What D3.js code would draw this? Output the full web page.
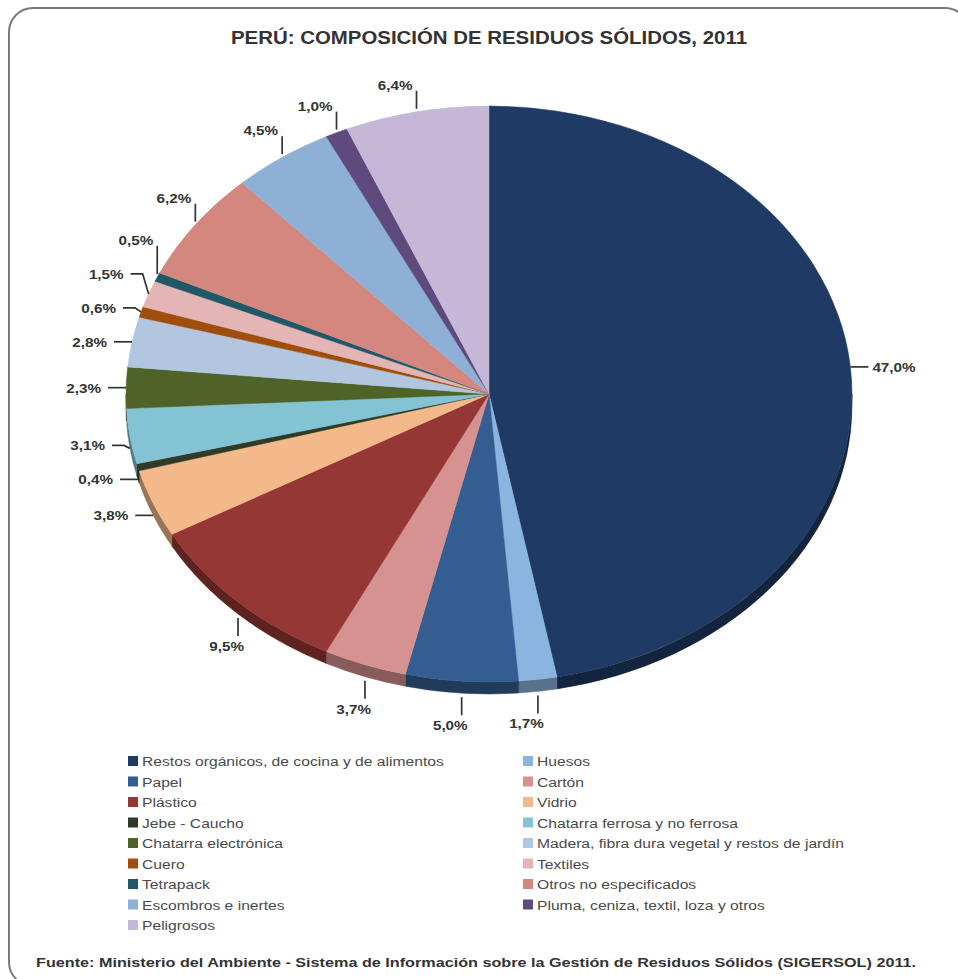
<!DOCTYPE html>
<html><head><meta charset="utf-8">
<script src="https://cdn.jsdelivr.net/npm/d3@7"></script>
<style>
html,body{margin:0;padding:0;background:#fff;}
svg{display:block;font-family:"Liberation Sans",Arial,sans-serif;}
</style></head>
<body>
<script>
const title = "PERÚ: COMPOSICIÓN DE RESIDUOS SÓLIDOS, 2011";
const source = "Fuente: Ministerio del Ambiente - Sistema de Información sobre la Gestión de Residuos Sólidos (SIGERSOL) 2011.";
const categories = [
  "Restos orgánicos, de cocina y de alimentos", "Huesos",
  "Papel", "Cartón",
  "Plástico", "Vidrio",
  "Jebe - Caucho", "Chatarra ferrosa y no ferrosa",
  "Chatarra electrónica", "Madera, fibra dura vegetal y restos de jardín",
  "Cuero", "Textiles",
  "Tetrapack", "Otros no especificados",
  "Escombros e inertes", "Pluma, ceniza, textil, loza y otros",
  "Peligrosos"
];
const values = [47.0, 1.7, 5.0, 3.7, 9.5, 3.8, 0.4, 3.1, 2.3, 2.8, 0.6, 1.5, 0.5, 6.2, 4.5, 1.0, 6.4];
const colors = [
  "#1f3a64", "#8cb4e0", "#345e91", "#d69290", "#953735", "#f4b98a",
  "#2f3b26", "#84c3d4", "#4f6228", "#b3c6e0", "#a04e0c", "#e3b5b5",
  "#205868", "#d4877f", "#8fb0d6", "#5e4a7c", "#c4b8d6"
];

const W = 958, H = 979;
const SX = 1.13; // horizontal text stretch of the original
const svg = d3.select("body").append("svg").attr("width", W).attr("height", H);

// frame
svg.append("rect").attr("x", 9).attr("y", 8).attr("width", 960).attr("height", 978)
  .attr("rx", 24).attr("fill", "none").attr("stroke", "#7a7a7a").attr("stroke-width", 2);

svg.append("text").attr("x", W/2 + 10).attr("y", 44).attr("text-anchor", "middle")
  .attr("font-size", 18).attr("font-weight", "bold").attr("fill", "#333")
  .attr("textLength", 516).attr("lengthAdjust", "spacingAndGlyphs").text(title);

// pie geometry
const cx = 489, cy = 394, rx = 363, ry = 288, depth = 12;
const P = (a, dy = 0) => [cx + rx * Math.sin(a), cy - ry * Math.cos(a) + dy];

const data = categories.map((c, i) => ({ name: c, value: values[i], color: colors[i] }));
const arcs = d3.pie().sort(null).value(d => d.value)(data);

const g = svg.append("g");
// side (depth) of the lower half
arcs.forEach(a => {
  const b0 = Math.max(a.startAngle, Math.PI / 2), b1 = Math.min(a.endAngle, 3 * Math.PI / 2);
  if (b1 <= b0) return;
  const p0 = P(b0), p1 = P(b1), q1 = P(b1, depth), q0 = P(b0, depth);
  const large = (b1 - b0) > Math.PI ? 1 : 0;
  g.append("path")
    .attr("d", `M${p0}A${rx},${ry} 0 ${large} 1 ${p1}L${q1}A${rx},${ry} 0 ${large} 0 ${q0}Z`)
    .attr("fill", d3.color(a.data.color).darker(1.3))
    .attr("stroke", d3.color(a.data.color).darker(1.3)).attr("stroke-width", 0.5);
});
// top surface
arcs.forEach(a => {
  const p0 = P(a.startAngle), p1 = P(a.endAngle);
  const large = (a.endAngle - a.startAngle) > Math.PI ? 1 : 0;
  g.append("path")
    .attr("d", `M${cx},${cy}L${p0}A${rx},${ry} 0 ${large} 1 ${p1}Z`)
    .attr("fill", a.data.color).attr("stroke", a.data.color).attr("stroke-width", 0.5);
});

// labels
const locale = d3.formatLocale({ decimal: ",", thousands: ".", grouping: [3], currency: ["", ""] });
const fmt = v => locale.format(".1f")(v) + "%";
const labels = arcs.map(a => {
  const m = (a.startAngle + a.endAngle) / 2, s = Math.sin(m), c = Math.cos(m);
  const [ax, ay] = P(m, c < 0 ? depth : 0);
  let type = Math.abs(s) > 0.92 ? "h" : (c > 0 ? "vt" : "vb");
  const ty = type === "h" ? ay : (type === "vt" ? ay - 27 : ay + 32);
  return { a, m, s, c, ax, ay, type, ty, text: fmt(a.data.value) };
});
// resolve crowding on the left side (bottom to top)
const chain = labels.filter(l => l.s < -0.75 && l.type !== "vb").sort((p, q) => q.ay - p.ay);
let prev = Infinity;
chain.forEach(l => { l.ty = Math.min(l.ty, prev - 34); prev = l.ty; });

const lg = svg.append("g");
const line = d3.line();
function addText(x, y, txt, anchor) {
  lg.append("text").attr("transform", `translate(${x},${y}) scale(${SX},1)`)
    .attr("text-anchor", anchor).attr("font-size", 13.5).attr("font-weight", "bold")
    .attr("fill", "#333").text(txt);
}
labels.forEach(l => {
  let pts, tx, ty, anchor;
  if (l.type === "h") {
    const dir = l.s > 0 ? 1 : -1;
    if (Math.abs(l.ty - l.ay) > 1) pts = [[l.ax, l.ay], [l.ax + dir * 6, l.ty], [l.ax + dir * 18, l.ty]];
    else pts = [[l.ax, l.ay], [l.ax + dir * 18, l.ty]];
    tx = l.ax + dir * (dir > 0 ? 22 : 25); ty = l.ty + 5; anchor = dir > 0 ? "start" : "end";
  } else if (l.type === "vt") {
    pts = [[l.ax, l.ay - 3], [l.ax, l.ty + 6]];
    tx = l.ax - 4; ty = l.ty + 5; anchor = "end";
  } else {
    pts = [[l.ax, l.ay + 4], [l.ax, l.ay + 22]];
    tx = l.ax + 6; ty = l.ay + 37; anchor = "end";
  }
  lg.append("path").attr("d", line(pts)).attr("fill", "none")
    .attr("stroke", "#333").attr("stroke-width", 1.7);
  addText(tx, ty, l.text, anchor);
});

// legend
const leg = svg.append("g");
const colX = [128, 523], row0 = 761, rowH = 20.5;
data.forEach((d, i) => {
  const x = colX[i % 2], y = row0 + Math.floor(i / 2) * rowH;
  leg.append("rect").attr("x", x).attr("y", y - 5).attr("width", 10).attr("height", 10).attr("fill", d.color);
  leg.append("text").attr("transform", `translate(${x + 14},${y + 5}) scale(${SX + 0.03},1)`)
    .attr("font-size", 13.5).attr("fill", "#4a4a4a").text(d.name);
});

svg.append("text").attr("x", 36).attr("y", 967).attr("font-size", 13).attr("font-weight", "bold")
  .attr("fill", "#333").attr("textLength", 880).attr("lengthAdjust", "spacingAndGlyphs").text(source);
</script>
</body></html>
